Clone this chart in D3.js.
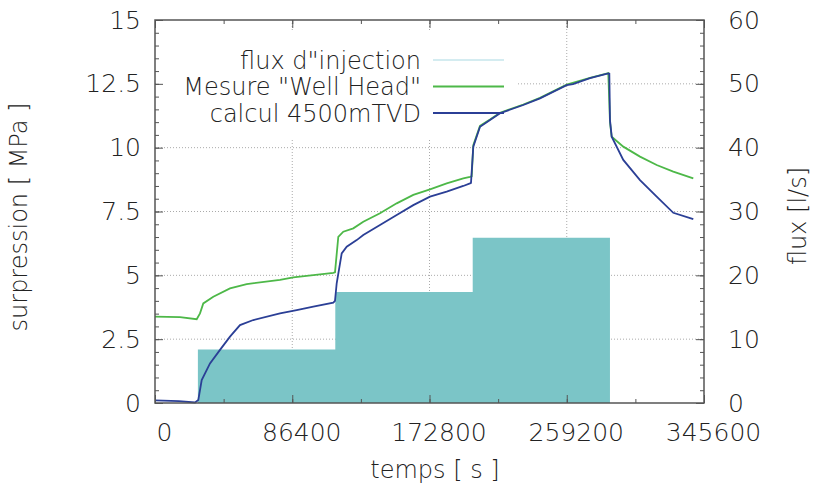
<!DOCTYPE html>
<html>
<head>
<meta charset="utf-8">
<script src="https://cdn.jsdelivr.net/npm/d3@7"></script>
<style>
  body { margin: 0; background: #fff; }
  text { font-family: "DejaVu Sans", sans-serif; font-weight: 200; fill: #222; }
</style>
</head>
<body>
<div id="chart"></div>
<script>
// time ticks [s]
var xTicks = [0, 86400, 172800, 259200, 345600];
var yTicks = [0, 2.5, 5, 7.5, 10, 12.5, 15];
var y2Ticks = [0, 10, 20, 30, 40, 50, 60];

// injection flux [l/s] (step)
var fluxTime  = [0, 27000, 113500, 200000, 286400, 345600];
var fluxValue = [0, 8.4, 17.4, 25.9, 0, 0];

// Mesure "Well Head" [MPa]
var headTime = [0, 15740, 26250, 28330, 30400, 36700, 47210, 57720, 78690, 87060, 99650, 112240, 113310,
  115390, 118530, 124830, 131120, 141640, 152150, 162600, 173110, 183630, 194070, 198290, 199360,
  200370, 204590, 210880, 217180, 231850, 242360, 259160, 273830, 285350, 286420, 287490,
  294790, 305310, 315820, 326270, 338860];
var headValue = [3.38, 3.36, 3.28, 3.51, 3.9, 4.16, 4.49, 4.66, 4.82, 4.92, 5.01, 5.1, 5.12,
  6.51, 6.71, 6.84, 7.1, 7.43, 7.82, 8.15, 8.37, 8.6, 8.8, 8.86, 8.88,
  10.1, 10.85, 11.1, 11.37, 11.69, 11.95, 12.47, 12.73, 12.92, 11.0, 10.43,
  10.04, 9.65, 9.32, 9.06, 8.8];

// calcul 4500mTVD [MPa]
var tvdTime = [0, 15000, 25200, 27260, 29400, 34620, 40920, 47210, 53510, 61880, 78690, 89200,
  99650, 112240, 113310, 114380, 117530, 120680, 126970, 131120, 141640, 152150, 162600, 173110,
  183630, 194070, 198290, 198920, 200370, 204600, 210900, 217200, 231850, 242360, 259160, 263130,
  273830, 285350, 286000, 286420, 287490, 294790, 305310, 315820, 326270, 338860];
var tvdValue = [0.1, 0.07, 0.02, 0.12, 0.9, 1.55, 2.08, 2.6, 3.05, 3.25, 3.51, 3.64,
  3.77, 3.93, 4.0, 4.69, 5.86, 6.12, 6.38, 6.58, 6.97, 7.36, 7.75, 8.08,
  8.28, 8.5, 8.6, 8.62, 10.04, 10.82, 11.08, 11.35, 11.67, 11.93, 12.45, 12.49,
  12.72, 12.91, 12.9, 11.08, 10.43, 9.52, 8.73, 8.08, 7.45, 7.2];

var legendNames = ['flux d"injection', 'Mesure "Well Head"', 'calcul 4500mTVD'];
var legendColors = ["#a9d9e2", "#4db848", "#2b3f96"];

var margin = {top: 20, right: 113, bottom: 83, left: 155},
    width = 817 - margin.left - margin.right,
    height = 486 - margin.top - margin.bottom;

var svg = d3.select("#chart")
  .append("svg")
    .attr("width", 817)
    .attr("height", 486)
  .append("g")
    .attr("transform", "translate(" + margin.left + "," + margin.top + ")");

var x = d3.scaleLinear().domain([0, 345600]).range([0, width]);
var y = d3.scaleLinear().domain([0, 15]).range([height, 0]);
var y2 = d3.scaleLinear().domain([0, 60]).range([height, 0]);

// grid
svg.append("g").selectAll("line")
  .data(yTicks.slice(1, -1))
  .enter().append("line")
    .attr("x1", 0).attr("x2", width)
    .attr("y1", function(d) { return y(d); })
    .attr("y2", function(d) { return y(d); })
    .attr("stroke", "#aaa").attr("stroke-dasharray", "1,2");
svg.append("g").selectAll("line")
  .data(xTicks.slice(1, -1))
  .enter().append("line")
    .attr("y1", 0).attr("y2", height)
    .attr("x1", function(d) { return x(d); })
    .attr("x2", function(d) { return x(d); })
    .attr("stroke", "#aaa").attr("stroke-dasharray", "1,2");

// legend background hides the grid only
svg.append("rect")
  .attr("x", 2).attr("y", 12).attr("width", 360).attr("height", 106)
  .attr("fill", "#fff");

// flux bars
var fluxData = fluxTime.map(function(t, i) { return {t: t, v: fluxValue[i]}; });
svg.append("path")
  .datum(fluxData)
  .attr("fill", "#7bc5c7")
  .attr("d", d3.area()
    .curve(d3.curveStepAfter)
    .x(function(d) { return x(d.t); })
    .y0(height)
    .y1(function(d) { return y2(d.v); }));

// lines
var line = d3.line()
  .x(function(d) { return x(d.t); })
  .y(function(d) { return y(d.v); });

var headData = headTime.map(function(t, i) { return {t: t, v: headValue[i]}; });
var tvdData = tvdTime.map(function(t, i) { return {t: t, v: tvdValue[i]}; });

svg.append("path").datum(headData)
  .attr("fill", "none").attr("stroke", legendColors[1]).attr("stroke-width", 1.8)
  .attr("d", line);
svg.append("path").datum(tvdData)
  .attr("fill", "none").attr("stroke", legendColors[2]).attr("stroke-width", 1.8)
  .attr("d", line);

// legend
var legend = svg.append("g").selectAll("g")
  .data(legendNames)
  .enter().append("g")
    .attr("transform", function(d, i) { return "translate(0," + (40 + i * 26.5) + ")"; });
legend.append("text")
  .attr("x", 266)
  .attr("dy", "0.36em")
  .style("text-anchor", "end")
  .style("font-size", "24px")
  .text(function(d) { return d; });
legend.append("line")
  .attr("x1", 278).attr("x2", 349)
  .attr("stroke", function(d, i) { return legendColors[i]; })
  .attr("stroke-width", function(d, i) { return i == 0 ? 1 : 1.8; });

// axes with inward ticks
var xMinor = d3.range(0, 345601, 43200);
svg.append("g")
  .attr("transform", "translate(0," + height + ")")
  .call(d3.axisBottom(x).tickValues(xMinor).tickSize(-4).tickFormat(""))
  .call(function(g) { g.select(".domain").remove(); });
svg.append("g")
  .attr("transform", "translate(0," + height + ")")
  .call(d3.axisBottom(x).tickValues(xTicks).tickSize(-8).tickPadding(20).tickFormat(d3.format("d")))
  .call(function(g) { g.select(".domain").remove(); })
  .selectAll("text").attr("dx", 9).style("font-size", "25px");
svg.append("g")
  .call(d3.axisTop(x).tickValues(xMinor).tickSize(-4).tickFormat(""))
  .call(function(g) { g.select(".domain").remove(); });
svg.append("g")
  .call(d3.axisTop(x).tickValues(xTicks).tickSize(-8).tickFormat(""))
  .call(function(g) { g.select(".domain").remove(); });

svg.append("g")
  .call(d3.axisLeft(y).tickValues(d3.range(0, 15.01, 0.5)).tickSize(-4).tickFormat(""))
  .call(function(g) { g.select(".domain").remove(); });
svg.append("g")
  .call(d3.axisLeft(y).tickValues(yTicks).tickSize(-8).tickPadding(14).tickFormat(d3.format("")))
  .call(function(g) { g.select(".domain").remove(); })
  .selectAll("text").style("font-size", "25px");

svg.append("g")
  .attr("transform", "translate(" + width + ",0)")
  .call(d3.axisRight(y2).tickValues(d3.range(0, 60.01, 2)).tickSize(-4).tickFormat(""))
  .call(function(g) { g.select(".domain").remove(); });
svg.append("g")
  .attr("transform", "translate(" + width + ",0)")
  .call(d3.axisRight(y2).tickValues(y2Ticks).tickSize(-8).tickPadding(24))
  .call(function(g) { g.select(".domain").remove(); })
  .selectAll("text").style("font-size", "25px");

svg.selectAll(".tick line").attr("stroke", "#555");

// border
svg.append("rect")
  .attr("width", width).attr("height", height)
  .attr("fill", "none").attr("stroke", "#555").attr("stroke-width", 1.5);

// axis titles
svg.append("text")
  .attr("x", 280).attr("y", height + 75)
  .style("text-anchor", "middle").style("font-size", "24px")
  .text("temps [ s ]");
svg.append("text")
  .attr("transform", "rotate(-90)")
  .attr("x", -197).attr("y", -128)
  .style("text-anchor", "middle").style("font-size", "24px")
  .text("surpression [ MPa ]");
svg.append("text")
  .attr("transform", "rotate(-90)")
  .attr("x", -196).attr("y", width + 102)
  .style("text-anchor", "middle").style("font-size", "24px")
  .text("flux [l/s]");
</script>
</body>
</html>
